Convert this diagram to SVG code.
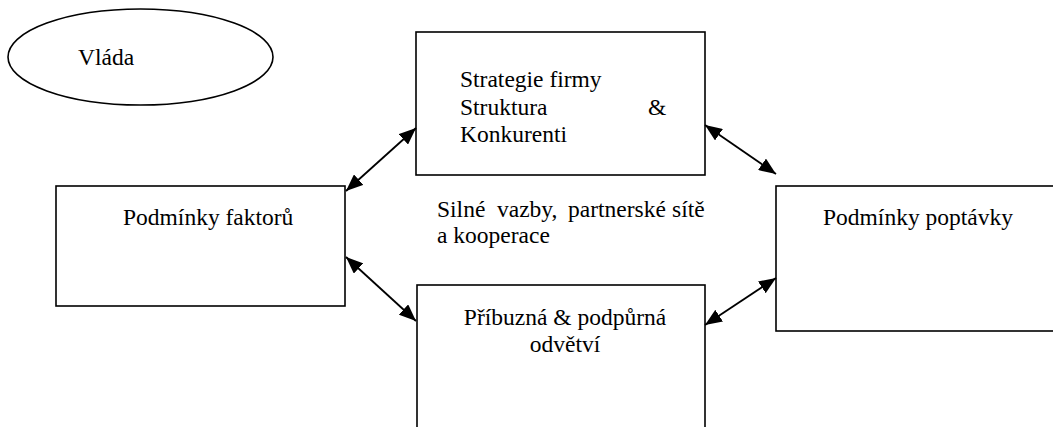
<svg xmlns="http://www.w3.org/2000/svg" width="1053" height="427" viewBox="0 0 1053 427">
<style>
.box{fill:#fff;stroke:#000;stroke-width:1.6}
text{font-family:'Liberation Serif','DejaVu Serif',serif;font-size:23.5px;fill:#000}
.c{stroke:#000;stroke-width:1.8;fill:none}
</style>
<defs>
<marker id="ah" markerUnits="userSpaceOnUse" markerWidth="18" markerHeight="14" refX="17" refY="7" orient="auto-start-reverse">
<path d="M0,0 L17,7 L0,14 z" fill="#000"/>
</marker>
</defs>
<rect width="1053" height="427" fill="#fff"/>
<g id="vlada">
<ellipse class="box" cx="140.5" cy="57" rx="132.5" ry="48"/>
<text x="78" y="65" font-family="Liberation Serif">Vláda</text>
</g>
<g id="strategie">
<rect class="box" x="416" y="32" width="289" height="143"/>
<text x="460" y="87" font-family="Liberation Serif">Strategie firmy</text>
<text x="460" y="115" font-family="Liberation Serif">Struktura</text>
<text x="648" y="115" font-family="Liberation Serif">&amp;</text>
<text x="460" y="142" font-family="Liberation Serif">Konkurenti</text>
</g>
<g id="faktory">
<rect class="box" x="56" y="186" width="289" height="120"/>
<text x="123" y="225" font-family="Liberation Serif">Podmínky faktorů</text>
</g>
<g id="poptavka">
<rect class="box" x="776" y="186" width="290" height="145"/>
<text x="823" y="225" font-family="Liberation Serif">Podmínky poptávky</text>
</g>
<g id="odvetvi">
<rect class="box" x="417" y="285" width="288" height="160"/>
<text x="565" y="325" text-anchor="middle" font-family="Liberation Serif">Příbuzná &amp; podpůrná</text>
<text x="565" y="352" text-anchor="middle" font-family="Liberation Serif">odvětví</text>
</g>
<g id="vazby">
<text y="217" font-family="Liberation Serif"><tspan x="437">Silné</tspan><tspan x="497">vazby,</tspan><tspan x="568">partnerské</tspan><tspan x="672">sítě</tspan></text>
<text x="437" y="243" font-family="Liberation Serif">a kooperace</text>
</g>
<g id="connectors">
<line class="c" x1="416" y1="128" x2="346" y2="191" marker-start="url(#ah)" marker-end="url(#ah)"/>
<line class="c" x1="705" y1="125" x2="776" y2="174" marker-start="url(#ah)" marker-end="url(#ah)"/>
<line class="c" x1="346" y1="257" x2="416" y2="321" marker-start="url(#ah)" marker-end="url(#ah)"/>
<line class="c" x1="776" y1="278" x2="705" y2="325" marker-start="url(#ah)" marker-end="url(#ah)"/>
</g>
</svg>
